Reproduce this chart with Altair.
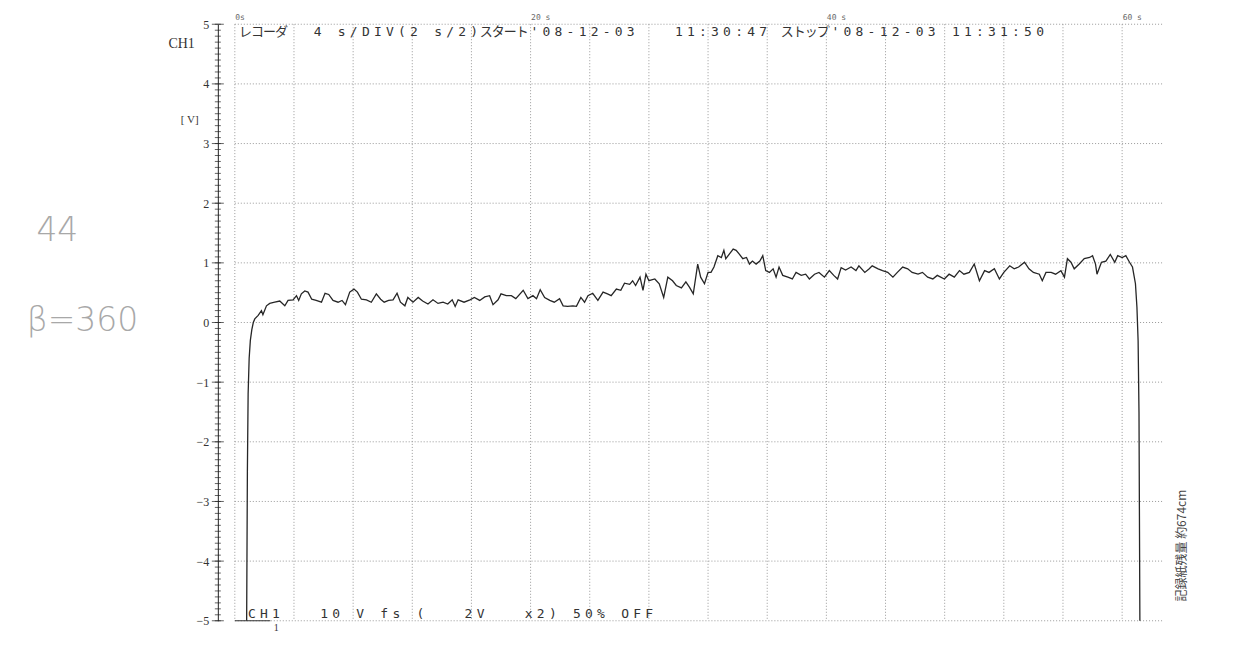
import altair as alt
import pandas as pd

# ---- trace (time in s, voltage in V) ----
t_s = [0.8, 0.85, 0.9, 0.97, 1.05, 1.15, 1.25, 1.35, 1.58, 1.8, 1.9, 2.14, 2.36, 2.7, 3.04,
       3.38, 3.6, 3.94, 4.17, 4.32, 4.5, 4.73, 4.95, 5.2, 5.5, 5.86, 6.1, 6.35, 6.64, 6.98,
       7.25, 7.48, 7.77, 8.06, 8.29, 8.56, 8.9, 9.23, 9.57, 9.86, 10.1, 10.4, 10.7, 10.97,
       11.2, 11.5, 11.7, 12.05, 12.4, 12.7, 13.06, 13.4, 13.74, 14.08, 14.4, 14.7, 14.9,
       15.1, 15.5, 15.9, 16.2, 16.56, 16.9, 17.23, 17.46, 17.8, 18.0, 18.36, 18.7, 19.0,
       19.5, 19.82, 20.16, 20.4, 20.65, 20.95, 21.3, 21.6, 21.96, 22.2, 22.5, 22.86, 23.1,
       23.4, 23.65, 23.88, 24.2, 24.55, 24.9, 25.2, 25.45, 25.8, 26.1, 26.35, 26.7, 26.9,
       27.1, 27.4, 27.6, 27.8, 28.0, 28.4, 28.7, 29.0, 29.28, 29.6, 29.85, 30.2, 30.5,
       30.75, 31.0, 31.3, 31.5, 31.76, 32.0, 32.2, 32.4, 32.66, 32.9, 33.07, 33.2, 33.45,
       33.7, 33.9, 34.1, 34.35, 34.6, 34.8, 35.0, 35.25, 35.5, 35.7, 35.9, 36.15, 36.4,
       36.6, 36.8, 37.05, 37.4, 37.7, 37.95, 38.3, 38.6, 38.85, 39.2, 39.5, 39.87, 40.2,
       40.5, 40.76, 41.0, 41.3, 41.67, 42.0, 42.2, 42.6, 42.9, 43.1, 43.5, 43.8, 44.15,
       44.5, 44.8, 45.16, 45.5, 45.8, 46.2, 46.5, 46.85, 47.2, 47.5, 47.98, 48.3, 48.65,
       49.0, 49.3, 49.67, 50.0, 50.35, 50.7, 51.0, 51.36, 51.7, 52.0, 52.4, 52.7, 53.0,
       53.4, 53.7, 54.0, 54.4, 54.6, 54.85, 55.2, 55.5, 55.86, 56.1, 56.3, 56.54, 56.76,
       57.1, 57.44, 57.8, 58.0, 58.2, 58.3, 58.6, 58.9, 59.2, 59.5, 59.7, 60.0, 60.25,
       60.5, 60.7, 60.9, 61.0, 61.08, 61.14, 61.2]
v_V = [-5.0, -2.5, -1.2, -0.6, -0.3, -0.12, 0.0, 0.06, 0.12, 0.20, 0.13, 0.28, 0.32, 0.34, 0.36,
       0.28, 0.37, 0.38, 0.45, 0.37, 0.48, 0.53, 0.51, 0.39, 0.37, 0.34, 0.49, 0.47, 0.37, 0.34,
       0.37, 0.30, 0.51, 0.56, 0.51, 0.39, 0.38, 0.34, 0.48, 0.39, 0.34, 0.37, 0.38, 0.49,
       0.34, 0.28, 0.42, 0.34, 0.42, 0.36, 0.31, 0.38, 0.32, 0.34, 0.31, 0.38, 0.27,
       0.38, 0.34, 0.38, 0.42, 0.37, 0.43, 0.45, 0.30, 0.38, 0.48, 0.45, 0.45, 0.40,
       0.54, 0.40, 0.45, 0.40, 0.55, 0.42, 0.37, 0.34, 0.40, 0.28, 0.27, 0.28, 0.27,
       0.42, 0.34, 0.45, 0.49, 0.37, 0.51, 0.48, 0.45, 0.56, 0.54, 0.66, 0.64, 0.70,
       0.62, 0.76, 0.54, 0.81, 0.70, 0.73, 0.65, 0.42, 0.76, 0.70, 0.62, 0.58, 0.68,
       0.59, 0.48, 0.98, 0.76, 0.65, 0.84, 0.84, 0.93, 1.12, 1.09, 1.21, 1.07, 1.15,
       1.23, 1.21, 1.15, 1.07, 1.09, 0.98, 1.03, 0.98, 1.03, 1.12, 0.87, 0.84, 0.90,
       0.76, 0.93, 0.79, 0.76, 0.73, 0.84, 0.79, 0.81, 0.73, 0.81, 0.84, 0.76, 0.87,
       0.79, 0.73, 0.92, 0.88, 0.93, 0.87, 0.95, 0.84, 0.90, 0.95, 0.90, 0.87, 0.84,
       0.76, 0.84, 0.93, 0.90, 0.84, 0.81, 0.84, 0.76, 0.73, 0.79, 0.73, 0.81, 0.76,
       0.87, 0.81, 0.84, 0.98, 0.70, 0.87, 0.84, 0.90, 0.73, 0.84, 0.95, 0.90, 0.93,
       1.01, 0.90, 0.84, 0.81, 0.70, 0.84, 0.84, 0.81, 0.87, 0.76, 1.07, 1.01, 0.90,
       0.98, 1.07, 1.09, 1.12, 0.98, 0.81, 1.01, 1.03, 1.14, 1.01, 1.12, 1.09, 1.12,
       1.01, 0.93, 0.65, 0.26, -0.3, -1.5, -5.0]

grid_t = list(range(0, 61, 4))          # 4 s/DIV
grid_v = list(range(-5, 6))             # 1 V per division
minor_v = [round(-5 + 0.1 * i, 1) for i in range(101)]
top_ticks = [0, 20, 40, 60]

header_text = "レコーダ  4 s/DIV(2 s/2)スタート'08-12-03   11:30:47 ストップ'08-12-03 11:31:50"
footer_text = "CH1   10 V fs (   2V   x2) 50% OFF"

PX_PER_S = 928 / 62.7
PITCH = 12.05 / PX_PER_S


def char_rows(text, t0, v):
    rows = []
    for i, ch in enumerate(text):
        if ch != " ":
            rows.append({"t": t0 + i * PITCH, "v": v, "s": ch})
    return pd.DataFrame(rows)


X = alt.X("t:Q", scale=alt.Scale(domain=[0, 62.7], nice=False, zero=False),
          axis=alt.Axis(orient="top", values=top_ticks, title=None, grid=False,
                        ticks=False, domain=False, labelAlign="left",
                        labelPadding=3, labelFontSize=8, labelColor="#666",
                        labelFont="DejaVu Sans Mono", labelOverlap=False,
                        labelExpr="datum.value == 0 ? '0s' : ' ' + datum.value + ' s'"))
Y = alt.Y("v:Q", scale=alt.Scale(domain=[-5, 5], nice=False, zero=False),
          axis=alt.Axis(orient="left", values=grid_v, title=None, grid=False,
                        ticks=False, domain=True, domainColor="#222", offset=17,
                        labelPadding=9, labelFontSize=12, labelColor="#333",
                        labelFont="Liberation Serif", labelOverlap=False))

trace_df = pd.DataFrame({"t": t_s, "v": v_V})

vgrid = alt.Chart(pd.DataFrame({"t": grid_t})).mark_rule(
    color="#999", strokeDash=[1, 2], strokeWidth=1).encode(x=X)
hgrid = alt.Chart(pd.DataFrame({"v": grid_v})).mark_rule(
    color="#999", strokeDash=[1, 2], strokeWidth=1).encode(y=Y)

minor_ticks = alt.Chart(pd.DataFrame({"v": minor_v})).mark_tick(
    orient="horizontal", size=6, thickness=1, color="#222").encode(y=Y, x=alt.value(-17))
major_ticks = alt.Chart(pd.DataFrame({"v": grid_v})).mark_tick(
    orient="horizontal", size=12, thickness=1, color="#222").encode(y=Y, x=alt.value(-17))

trace = alt.Chart(trace_df).mark_line(color="#262626", strokeWidth=1.3).encode(x=X, y=Y)

header = alt.Chart(char_rows(header_text, 10.6 / PX_PER_S, 4.874)).mark_text(
    font="DejaVu Sans Mono, Noto Sans CJK JP", fontSize=13, color="#333",
    align="center", baseline="middle").encode(x=X, y=Y, text="s:N")
footer = alt.Chart(char_rows(footer_text, 17.0 / PX_PER_S, -4.89)).mark_text(
    font="DejaVu Sans Mono", fontSize=13, color="#333",
    align="center", baseline="middle").encode(x=X, y=Y, text="s:N")

ch_mark = alt.Chart(pd.DataFrame({"t": [0.0], "t2": [2.4], "v": [-5.0]})).mark_rule(
    color="#333", strokeWidth=1.2).encode(x=X, x2="t2:Q", y=Y)

labels_df = pd.DataFrame({
    "t": [-3.6, -3.05, 2.8],
    "v": [4.67, 3.40, -5.12],
    "s": ["CH1", "[ V]", "1"],
    "f": [14, 11, 10],
})
side_labels = alt.Chart(labels_df).mark_text(
    font="Liberation Serif", color="#333", align="center", baseline="middle").encode(
    x=X, y=Y, text="s:N", size=alt.Size("f:Q", scale=None, legend=None))

hand_df = pd.DataFrame({"t": [-12.0, -10.3], "v": [1.54, 0.03], "s": ["44", "β=360"]})
hand = alt.Chart(hand_df).mark_text(
    font="DejaVu Sans", fontSize=33, fontWeight="lighter", color="#a8a8a8",
    align="center", baseline="middle").encode(x=X, y=Y, text="s:N")

side_df = pd.DataFrame({"t": [64.05], "v": [-3.74], "s": ["記録紙残量 約674cm"]})
side = alt.Chart(side_df).mark_text(
    font="Noto Sans CJK JP", fontSize=12, color="#444", angle=270,
    align="center", baseline="middle").encode(x=X, y=Y, text="s:N")

chart = alt.layer(
    vgrid, hgrid, minor_ticks, major_ticks, trace, header, footer, ch_mark,
    side_labels, hand, side
).properties(
    width=928, height=597,
    autosize=alt.AutoSizeParams(type="none"),
    padding={"left": 227, "top": 16, "right": 80, "bottom": 22},
    background="white",
).configure_view(stroke=None)

chart.save("out.html", embed_options={"renderer": "svg", "actions": False})
